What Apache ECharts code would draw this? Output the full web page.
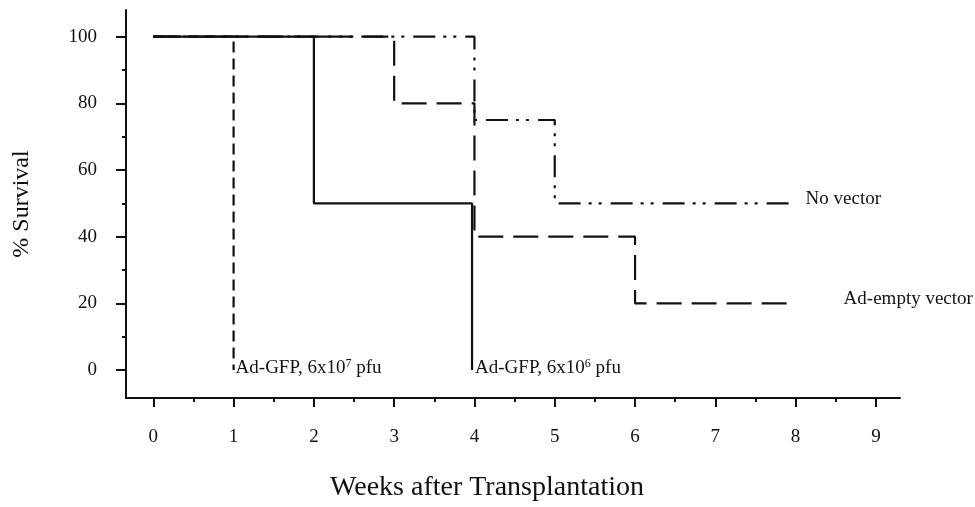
<!DOCTYPE html>
<html>
<head>
	<title>Survival</title>
	<meta charset="utf-8" />
	<script type="text/javascript" src="https://cdn.jsdelivr.net/npm/echarts@6/dist/echarts.min.js"></script>
	<style type="text/css">
		html, body{ margin:0; padding:0; background:#fff; }
		#container{ width:975px; height:507px; }
	</style>
</head>
<body>
<div id="container"></div>
<script type="text/javascript">
	// step points: week of each change and % survival from then on
	var noVectorWeeks = [0, 4, 5, 8];
	var noVectorSurv  = [100, 75, 50, 50];
	var emptyWeeks    = [0, 3, 4, 6, 8];
	var emptySurv     = [100, 80, 40, 20, 20];
	var gfp6Weeks     = [0, 2, 3.97];
	var gfp6Surv      = [100, 50, 0];
	var gfp7Weeks     = [0, 1];
	var gfp7Surv      = [100, 0];

	var curveLabels = ['No vector', 'Ad-empty vector', 'Ad-GFP, 6x10{sup|6} pfu', 'Ad-GFP, 6x10{sup|7} pfu'];

	var xTicks      = [0, 1, 2, 3, 4, 5, 6, 7, 8, 9];
	var xMinorTicks = [0.5, 1.5, 2.5, 3.5, 4.5, 5.5, 6.5, 7.5, 8.5];
	var yTicks      = [0, 20, 40, 60, 80, 100];
	var yMinorTicks = [10, 30, 50, 70, 90];

	var FONT = 'Liberation Serif';
	var INK = '#111';

	function pairs(xs, ys){
		return xs.map(function(x, i){ return [x, ys[i]]; });
	}

	function curve(name, xs, ys, dash, labelGap, lift){
		return {
			name: name,
			type: 'line',
			step: 'end',
			data: pairs(xs, ys),
			showSymbol: false,
			symbol: 'none',
			lineStyle: { color: INK, width: 2.2, type: dash },
			endLabel: {
				show: true,
				formatter: name,
				distance: labelGap,
				offset: [0, -lift],
				fontFamily: FONT,
				fontSize: 19,
				color: INK,
				lineHeight: 20,
				rich: {
					sup: { fontFamily: FONT, fontSize: 12, lineHeight: 12, verticalAlign: 'top', color: INK }
				}
			}
		};
	}

	var chart = echarts.init(document.getElementById('container'));

	var axisText = { fontFamily: FONT, fontSize: 19, color: INK };

	var options = {
		animation: false,
		backgroundColor: '#fff',
		grid: { left: 126, right: 75, top: 10, bottom: 108 },
		xAxis: [
			{
				type: 'value', min: -0.34, max: 9.3,
				splitLine: { show: false },
				axisLine: { show: true, onZero: false, lineStyle: { color: INK, width: 2 } },
				axisTick: { show: true, length: 9, lineStyle: { color: INK, width: 2 }, customValues: xTicks },
				axisLabel: Object.assign({ margin: 30, customValues: xTicks }, axisText),
				name: 'Weeks after Transplantation',
				nameLocation: 'middle',
				nameGap: 76,
				nameTextStyle: { fontFamily: FONT, fontSize: 28, color: INK, padding: [0, 52, 0, 0] }
			},
			{
				// half-week minor ticks
				type: 'value', min: -0.34, max: 9.3, position: 'bottom',
				splitLine: { show: false },
				axisLine: { show: false, onZero: false },
				axisTick: { show: true, length: 4, lineStyle: { color: INK, width: 2 }, customValues: xMinorTicks },
				axisLabel: { show: false }
			}
		],
		yAxis: [
			{
				type: 'value', min: -8.4, max: 108,
				splitLine: { show: false },
				axisLine: { show: true, onZero: false, lineStyle: { color: INK, width: 2 } },
				axisTick: { show: true, length: 10, lineStyle: { color: INK, width: 2 }, customValues: yTicks },
				axisLabel: Object.assign({ margin: 29, customValues: yTicks }, axisText),
				name: '% Survival',
				nameLocation: 'middle',
				nameGap: 92,
				nameTextStyle: { fontFamily: FONT, fontSize: 24, color: INK }
			},
			{
				type: 'value', min: -8.4, max: 108, position: 'left',
				splitLine: { show: false },
				axisLine: { show: false, onZero: false },
				axisTick: { show: true, length: 4, lineStyle: { color: INK, width: 2 }, customValues: yMinorTicks },
				axisLabel: { show: false }
			}
		],
		series: [
			curve(curveLabels[0], noVectorWeeks, noVectorSurv, [22, 8, 3, 7, 3, 9], 10, 4),
			curve(curveLabels[1], emptyWeeks, emptySurv, [25, 10], 48, 4),
			curve(curveLabels[3], gfp7Weeks, gfp7Surv, [11, 6], 2, 2),
			curve(curveLabels[2], gfp6Weeks, gfp6Surv, 'solid', 3, 2)
		]
	};

	chart.setOption(options);
</script>
</body>
</html>
